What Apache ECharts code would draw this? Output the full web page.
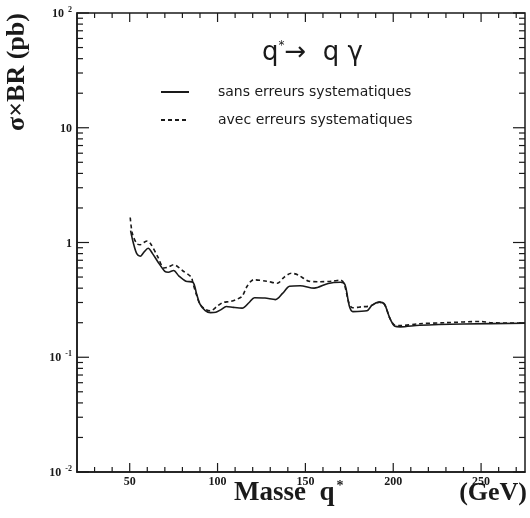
<!DOCTYPE html>
<html><head><meta charset="utf-8">
<script src="https://cdn.jsdelivr.net/npm/echarts@6/dist/echarts.min.js"></script>
<style>html,body{margin:0;padding:0;background:#fff}#c{width:530px;height:518px}</style>
</head><body><div id="c"></div>
<script>
// ---- data ----
const seriesNames = ['sans erreurs systematiques', 'avec erreurs systematiques'];
const sansErreurs = [[50.5,1.27],[52,1.0],[54,0.8],[56,0.76],[58,0.82],[60.5,0.89],[63,0.8],[66,0.68],[70,0.56],[72,0.55],[75,0.57],[78,0.51],[82,0.46],[86,0.45],[88,0.36],[90,0.29],[93,0.255],[96,0.245],[99,0.247],[102,0.26],[105,0.277],[109,0.272],[114,0.268],[118,0.3],[121,0.33],[127,0.328],[133,0.318],[137,0.36],[141,0.415],[147,0.42],[155,0.4],[163,0.44],[170,0.45],[172.5,0.43],[175,0.28],[177,0.25],[185,0.254],[188,0.285],[192,0.302],[195,0.29],[198,0.22],[201,0.186],[204,0.184],[215,0.19],[240,0.195],[275,0.198]];
const avecErreurs = [[50.3,1.65],[51.5,1.2],[54,0.98],[56,0.955],[58,1.0],[60,1.03],[62,0.97],[66,0.75],[69.5,0.6],[72,0.61],[75,0.64],[80,0.57],[85,0.5],[86,0.44],[88,0.35],[90,0.29],[93,0.262],[96,0.254],[100,0.28],[103,0.3],[107,0.306],[111,0.32],[114,0.34],[117,0.42],[120.5,0.473],[128,0.46],[134,0.442],[138,0.5],[142,0.54],[146,0.52],[152,0.46],[158,0.455],[165,0.46],[170,0.47],[172,0.44],[175,0.29],[177,0.27],[182,0.275],[187,0.28],[192,0.302],[195,0.29],[198,0.22],[201,0.19],[204,0.189],[215,0.196],[230,0.2],[250,0.205],[256,0.2],[275,0.198]];
const xTickLabels = [50, 100, 150, 200, 250];
const xMinorTicks = [30,40,60,70,80,90,110,120,130,140,160,170,180,190,210,220,230,240,260,270];
const yTickValues = [0.01, 0.1, 1, 10, 100];
const yTickLabels = ['{b|10}{s|-2}', '{b|10}{s|-1}', '{b|1}', '{b|10}', '{b|10}{s|2}'];
const yMinorTicks = [];
[0.01, 0.1, 1, 10].forEach(d => { for (let k = 2; k <= 9; k++) yMinorTicks.push(+(d * k).toPrecision(3)); });

const X_MIN = 20, X_MAX = 275;
const ink = '#1a1a1a';
const serif = '"Liberation Serif","DejaVu Serif",serif';
const sans = '"DejaVu Sans",sans-serif';

function xTicks(values, len) {
  return {
    type: 'custom', silent: true, clip: false, z: 5,
    data: values.map(v => [v, 1]),
    renderItem(params, api) {
      const cs = params.coordSys;
      const px = api.coord([api.value(0), 1])[0];
      const b = cs.y + cs.height;
      return { type: 'group', children: [
        { type: 'line', shape: { x1: px, y1: b, x2: px, y2: b - len }, style: { stroke: ink, lineWidth: 1.2 } },
        { type: 'line', shape: { x1: px, y1: cs.y, x2: px, y2: cs.y + len }, style: { stroke: ink, lineWidth: 1.2 } }
      ]};
    }
  };
}
function yTicks(values, len) {
  return {
    type: 'custom', silent: true, clip: false, z: 5,
    data: values.map(v => [X_MIN, v]),
    renderItem(params, api) {
      const cs = params.coordSys;
      const py = api.coord([X_MIN, api.value(1)])[1];
      const r = cs.x + cs.width;
      return { type: 'group', children: [
        { type: 'line', shape: { x1: cs.x, y1: py, x2: cs.x + len, y2: py }, style: { stroke: ink, lineWidth: 1.2 } },
        { type: 'line', shape: { x1: r, y1: py, x2: r - len, y2: py }, style: { stroke: ink, lineWidth: 1.2 } }
      ]};
    }
  };
}

const chart = echarts.init(document.getElementById('c'), null, { renderer: 'canvas' });
chart.setOption({
  backgroundColor: '#fff',
  animation: false,
  grid: { left: 77, right: 5, top: 13, bottom: 46, show: true, borderColor: ink, borderWidth: 1.5, backgroundColor: 'transparent' },
  xAxis: {
    type: 'value', min: X_MIN, max: X_MAX, interval: 10,
    axisLine: { show: true, lineStyle: { color: ink, width: 1.5 } },
    axisTick: { show: false }, splitLine: { show: false },
    axisLabel: {
      margin: 4, color: ink, fontFamily: serif, fontWeight: 'bold', fontSize: 12,
      formatter: v => xTickLabels.indexOf(v) >= 0 ? String(v) : ''
    }
  },
  yAxis: {
    type: 'log', logBase: 10, min: 0.01, max: 100,
    axisLine: { show: true, lineStyle: { color: ink, width: 1.5 } },
    axisTick: { show: false }, splitLine: { show: false },
    axisLabel: {
      margin: 5, color: ink,
      formatter: v => { const i = yTickValues.findIndex(t => Math.abs(t - v) / t < 1e-6); return i >= 0 ? yTickLabels[i] : ''; },
      rich: {
        b: { fontFamily: serif, fontWeight: 'bold', fontSize: 12, color: ink, lineHeight: 14, verticalAlign: 'bottom' },
        s: { fontFamily: serif, fontWeight: 'bold', fontSize: 8, color: ink, lineHeight: 14, verticalAlign: 'top', padding: [0, 0, 6, 4] }
      }
    }
  },
  legend: {
    data: seriesNames, orient: 'vertical', left: 155, top: 80,
    itemWidth: 28, itemHeight: 14, itemGap: 14,
    itemStyle: { opacity: 0 },
    textStyle: { fontFamily: sans, fontSize: 14, color: ink, padding: [0, 0, 0, 24] },
    inactiveColor: '#999'
  },
  graphic: [
    { type: 'text', left: 262, top: 40, style: { rich: {
        a: { fontFamily: sans, fontSize: 26, fill: ink },
        s: { fontFamily: sans, fontSize: 12, fill: ink, verticalAlign: 'top', padding: [0, 0, 13, 0] }
      }, text: '{a|q}{s|*}{a|→  q γ}' } },
    { type: 'text', x: 17, y: 72, rotation: Math.PI / 2, style: { text: 'σ×BR (pb)', font: 'bold 26px ' + serif, fill: ink, textAlign: 'center', textVerticalAlign: 'middle' } },
    { type: 'text', left: 234, top: 479, style: { rich: {
        a: { fontFamily: serif, fontWeight: 'bold', fontSize: 27, fill: ink },
        s: { fontFamily: serif, fontWeight: 'bold', fontSize: 14, fill: ink, verticalAlign: 'top', padding: [0, 0, 14, 2] }
      }, text: '{a|Masse  q}{s|*}' } },
    { type: 'text', right: 3, top: 480, style: { text: '(GeV)', font: 'bold 26px ' + serif, fill: ink } }
  ],
  series: [
    { name: seriesNames[0], type: 'line', data: sansErreurs, showSymbol: false, symbol: 'none', smooth: 0.3,
      lineStyle: { color: ink, width: 1.6, type: 'solid' }, itemStyle: { color: ink }, z: 3 },
    { name: seriesNames[1], type: 'line', data: avecErreurs, showSymbol: false, symbol: 'none', smooth: 0.3,
      lineStyle: { color: ink, width: 1.6, type: [4, 3] }, itemStyle: { color: ink }, z: 2 },
    xTicks(xTickLabels, 9), xTicks(xMinorTicks, 5),
    yTicks(yTickValues, 12), yTicks(yMinorTicks, 6)
  ]
});
</script></body></html>
